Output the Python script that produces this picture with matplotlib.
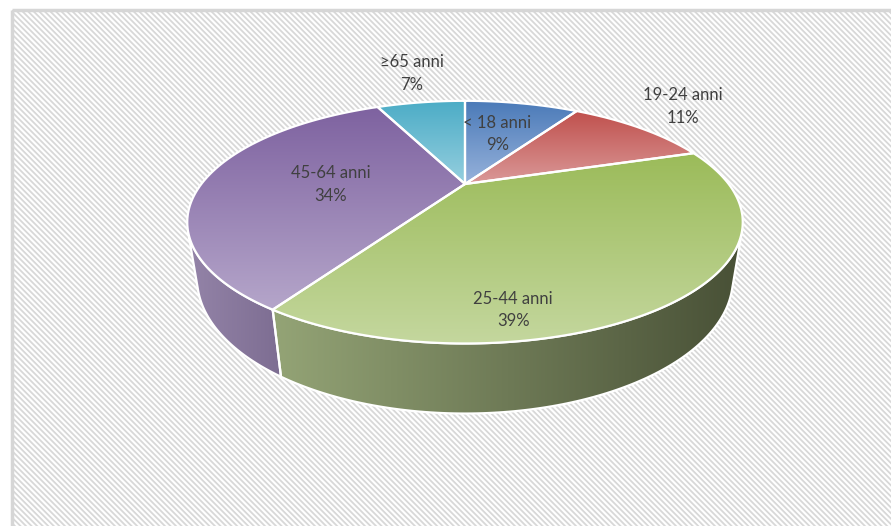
import numpy as np
import matplotlib.pyplot as plt
from matplotlib.patches import Polygon, Rectangle
from matplotlib.colors import LinearSegmentedColormap

# quote per fascia d'età
fasce = ['< 18 anni', '19-24 anni', '25-44 anni', '45-64 anni', '≥65 anni']
quote = [9, 11, 39, 34, 7]

# colori: faccia superiore (scuro in alto -> chiaro in basso), parete laterale (chiaro sx -> scuro dx)
col_top = [('#4A7AB8', '#97B2DB'), ('#C0504D', '#DA9998'), ('#9BBB59', '#C4D79E'),
           ('#7E62A0', '#B5A6CA'), ('#4BACC6', '#96CFDF')]
col_side = [('#6F8DB8', '#3A5A85'), ('#B07473', '#7E3836'), ('#94A476', '#485036'),
            ('#9484A8', '#7D6D92'), ('#7CB4C4', '#357A8C')]

# posizione delle etichette: raggio e scostamento angolare rispetto al centro fetta
lab_r = [0.57, 1.42, 0.85, 0.51, 1.54]
lab_dphi = [1.6, 3.3, -28.7, 2.6, -1.5]

W, H = 891, 526
elev = np.radians(24.5)
dist = 2.894
focal = 763
spess = 0.232
cx, cy = 465, 184
ce, se = np.cos(elev), np.sin(elev)

plt.rcParams['hatch.linewidth'] = 1.3


def proietta(x, y, z):
    depth = dist + y * ce - z * se
    u = focal * x / depth
    v = focal * (y * se + z * ce) / depth
    return cx + u, cy - v


def riempi(ax, pts, c0, c1, orizz=False, z=2):
    poly = Polygon(pts, closed=True, facecolor='none', edgecolor='none')
    ax.add_patch(poly)
    x0, y0 = pts.min(axis=0)
    x1, y1 = pts.max(axis=0)
    cmap = LinearSegmentedColormap.from_list('g', [c0, c1])
    g = np.linspace(0, 1, 256)
    g = g[None, :] if orizz else g[:, None]
    im = ax.imshow(g, cmap=cmap, extent=(x0, x1, y1, y0), origin='upper',
                   aspect='auto', interpolation='bilinear', zorder=z)
    im.set_clip_path(poly)
    ax.add_patch(Polygon(pts, closed=True, facecolor='none', edgecolor='white',
                         linewidth=1.6, zorder=z + 0.5))


fig = plt.figure(figsize=(W / 100, H / 100), dpi=100)
ax = fig.add_axes([0, 0, 1, 1])

# sfondo a righe diagonali fitte con cornice grigia
ax.add_patch(Rectangle((12, 10), W, H, facecolor='white', edgecolor='#D8D8D8',
                       hatch='\\' * 6, linewidth=0, zorder=0))
ax.add_patch(Rectangle((12, 10), W, H, facecolor='none', edgecolor='#D6D6D6',
                       linewidth=2.5, zorder=0.5))

cum = np.concatenate([[0], np.cumsum(quote)]) / 100.0
start = 90 - 360 * cum[:-1]
end = 90 - 360 * cum[1:]

# parte visibile della parete laterale
k = np.degrees(np.arcsin(1 / (dist * ce)))
vis_lo, vis_hi = -180 + k, -k

for i in range(len(quote)):
    lo, hi = min(start[i], end[i]), max(start[i], end[i])
    for sh in (-360, 0, 360):
        a, b = max(lo + sh, vis_lo), min(hi + sh, vis_hi)
        if a >= b:
            continue
        phi = np.radians(np.linspace(a, b, 120))
        tx, ty = proietta(np.cos(phi), np.sin(phi), 0)
        bx, by = proietta(np.cos(phi), np.sin(phi), -spess)
        pts = np.column_stack([np.concatenate([tx, bx[::-1]]),
                               np.concatenate([ty, by[::-1]])])
        riempi(ax, pts, col_side[i][0], col_side[i][1], orizz=True, z=2)

# facce superiori
for i in range(len(quote)):
    phi = np.radians(np.linspace(start[i], end[i], 150))
    ax_, ay_ = proietta(np.cos(phi), np.sin(phi), 0)
    ox, oy = proietta(0, 0, 0)
    pts = np.column_stack([np.concatenate([[ox], ax_]), np.concatenate([[oy], ay_])])
    riempi(ax, pts, col_top[i][0], col_top[i][1], z=4)

# etichette
for i in range(len(quote)):
    mid = (start[i] + end[i]) / 2 + lab_dphi[i]
    lx, ly = proietta(lab_r[i] * np.cos(np.radians(mid)), lab_r[i] * np.sin(np.radians(mid)), 0)
    ax.text(lx, ly + 1.5, f'{fasce[i]}\n{quote[i]}%', ha='center', va='center',
            fontsize=12, family=['Lato', 'DejaVu Sans'], color='#404040',
            linespacing=1.5, zorder=10)

ax.set_xlim(0, W)
ax.set_ylim(H, 0)
ax.axis('off')
fig.savefig('out.png', dpi=100)
